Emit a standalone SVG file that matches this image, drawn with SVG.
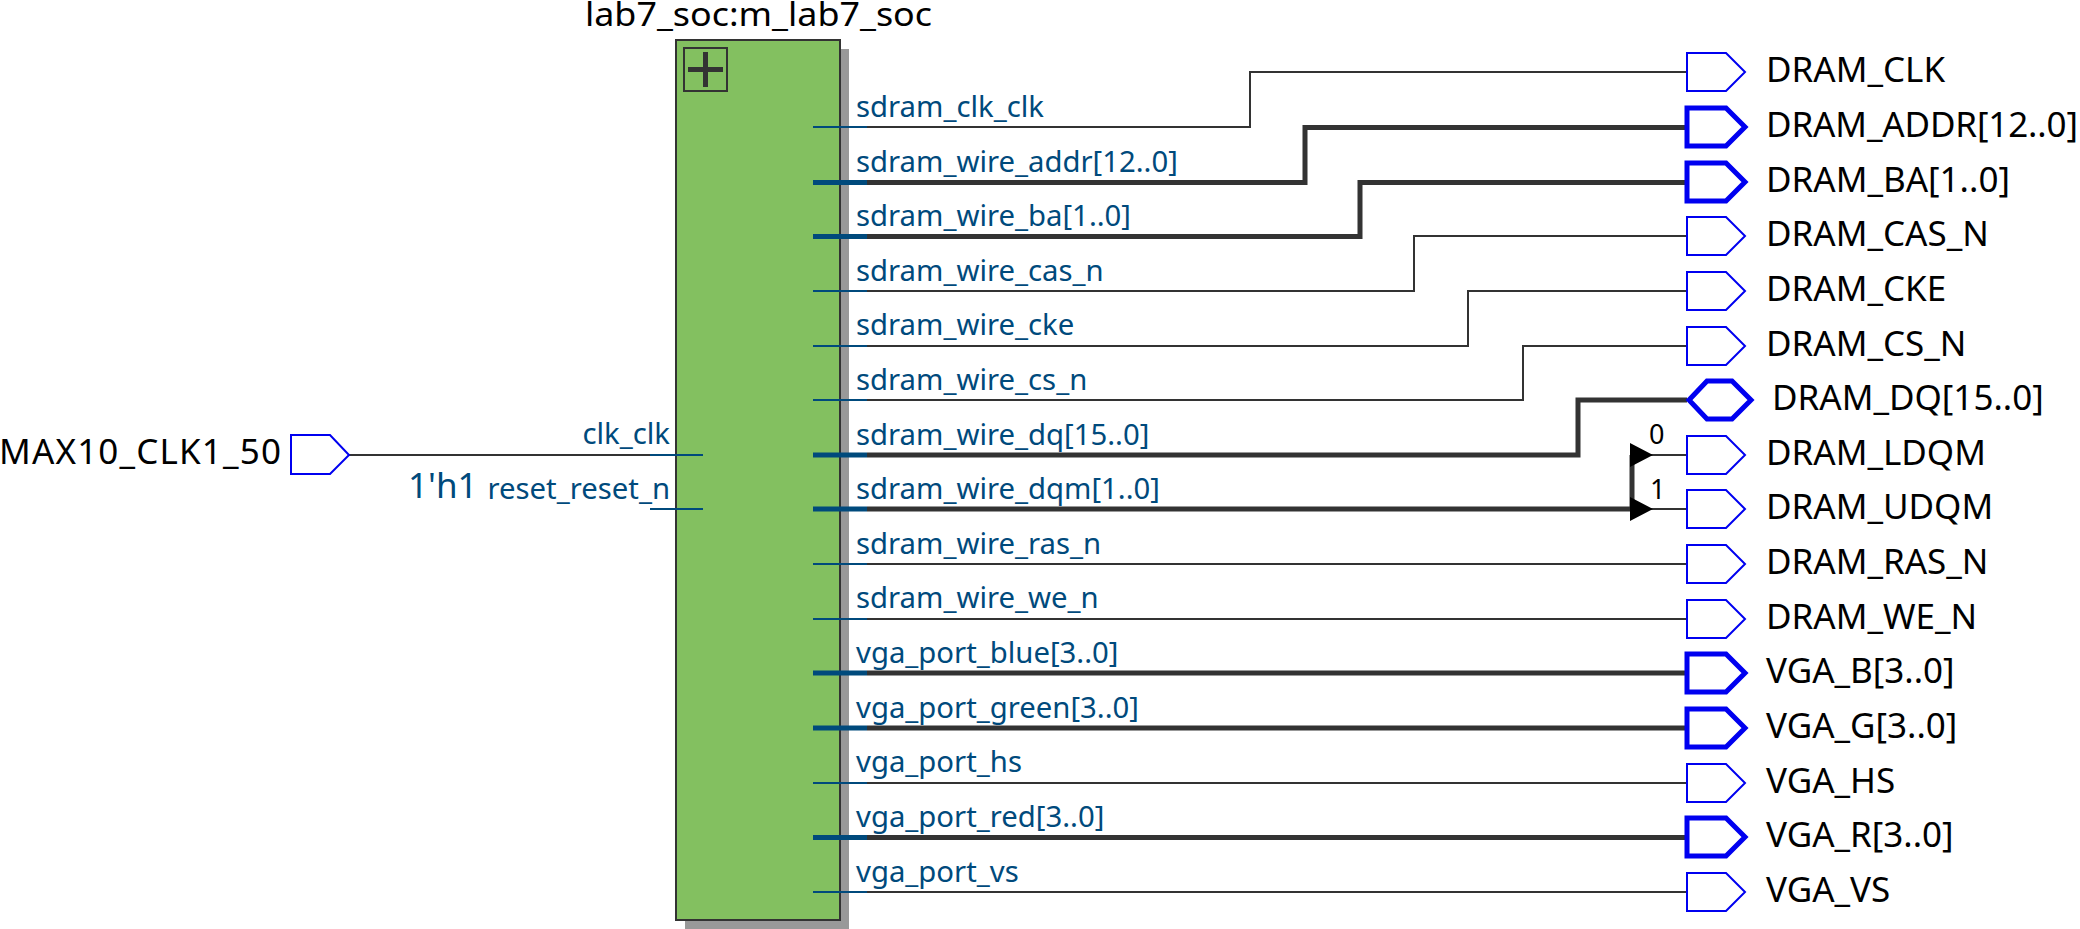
<svg xmlns="http://www.w3.org/2000/svg" width="2080" height="929" viewBox="0 0 2080 929">
<style>
text{font-family:"Noto Sans","Open Sans","DejaVu Sans",sans-serif}
.n{font-size:35px;fill:#000}
.p{font-size:29.3px;fill:#004a7c}
.i{font-size:27px;fill:#000}
.w{fill:none;stroke:#333;stroke-width:2}
.b{fill:none;stroke:#333;stroke-width:5}
.sw{fill:none;stroke:#004a7c;stroke-width:2}
.sb{fill:none;stroke:#004a7c;stroke-width:5}
.pin{fill:#fff;stroke:#0000f0;stroke-width:2}
.pinb{fill:#fff;stroke:#0000f0;stroke-width:5}
</style>
<defs>
<path id="out" d="M0 -19H39L58 0L39 19H0Z"/>
</defs>
<g id="lab7_soc">
<rect x="685" y="49" width="164" height="880" fill="#999"/>
<rect x="676" y="40" width="164" height="880" fill="#83c060" stroke="#333" stroke-width="2"/>
<rect x="684" y="48" width="43" height="43" fill="none" stroke="#333" stroke-width="2"/>
<path d="M688 69.500H723M705.500 52V87" fill="none" stroke="#333" stroke-width="5"/>
<text class="n" x="585" y="26" textLength="347" lengthAdjust="spacingAndGlyphs" style="font-size:33px">lab7_soc:m_lab7_soc</text>
<text class="p" x="670" y="444" text-anchor="end">clk_clk</text>
<text class="p" x="670" y="499" text-anchor="end">reset_reset_n</text>
<text class="p" x="408" y="498" style="font-size:35px">1'h1</text>
<text class="p" x="856" y="117">sdram_clk_clk</text>
<text class="p" x="856" y="172">sdram_wire_addr[12..0]</text>
<text class="p" x="856" y="226">sdram_wire_ba[1..0]</text>
<text class="p" x="856" y="281">sdram_wire_cas_n</text>
<text class="p" x="856" y="335">sdram_wire_cke</text>
<text class="p" x="856" y="390">sdram_wire_cs_n</text>
<text class="p" x="856" y="445">sdram_wire_dq[15..0]</text>
<text class="p" x="856" y="499">sdram_wire_dqm[1..0]</text>
<text class="p" x="856" y="554">sdram_wire_ras_n</text>
<text class="p" x="856" y="608">sdram_wire_we_n</text>
<text class="p" x="856" y="663">vga_port_blue[3..0]</text>
<text class="p" x="856" y="718">vga_port_green[3..0]</text>
<text class="p" x="856" y="772">vga_port_hs</text>
<text class="p" x="856" y="827">vga_port_red[3..0]</text>
<text class="p" x="856" y="882">vga_port_vs</text>
</g>
<g id="connectors">
<path class="w" d="M349 455H650"/>
<path class="w" d="M867 127H1250V72H1687"/>
<path class="b" d="M867 182.500H1305V127.500H1687"/>
<path class="b" d="M867 236.500H1360V182.500H1687"/>
<path class="w" d="M867 291H1414V236H1687"/>
<path class="w" d="M867 346H1468V291H1687"/>
<path class="w" d="M867 400H1523V346H1687"/>
<path class="b" d="M867 455H1578V400H1687"/>
<path class="b" d="M867 509H1632"/>
<path class="b" d="M1632 455V509"/>
<path class="w" d="M1650 455H1687M1650 509H1687"/>
<path d="M1630 443L1653 455L1630 467ZM1630 497L1653 509L1630 521Z" fill="#000"/>
<path class="w" d="M867 564H1687M867 619H1687"/>
<path class="b" d="M867 673H1687M867 728H1687"/>
<path class="w" d="M867 783H1687"/>
<path class="b" d="M867 837.500H1687"/>
<path class="w" d="M867 892H1687"/>
<path class="sw" d="M650 455H703M650 509H703M813 127H867M813 291H867M813 346H867M813 400H867M813 564H867M813 619H867M813 783H867M813 892H867"/>
<path class="sb" d="M813 182.500H867M813 236.500H867M813 455H867M813 509H867M813 673H867M813 728H867M813 837.500H867"/>
<text class="i" x="1649" y="444">0</text>
<text class="i" x="1650" y="499">1</text>
</g>
<g id="MAX10_CLK1_50"><path class="pin" d="M291 435H330L349 455L330 474H291Z"/><text class="n" x="-1" y="464" textLength="282">MAX10_CLK1_50</text></g>
<g id="DRAM_CLK"><use href="#out" class="pin" x="1687" y="72"/><text class="n" x="1766" y="82">DRAM_CLK</text></g>
<g id="DRAM_ADDR"><use href="#out" class="pinb" x="1687" y="127"/><text class="n" x="1766" y="137" textLength="312">DRAM_ADDR[12..0]</text></g>
<g id="DRAM_BA"><use href="#out" class="pinb" x="1687" y="182"/><text class="n" x="1766" y="192">DRAM_BA[1..0]</text></g>
<g id="DRAM_CAS_N"><use href="#out" class="pin" x="1687" y="236"/><text class="n" x="1766" y="246">DRAM_CAS_N</text></g>
<g id="DRAM_CKE"><use href="#out" class="pin" x="1687" y="291"/><text class="n" x="1766" y="301">DRAM_CKE</text></g>
<g id="DRAM_CS_N"><use href="#out" class="pin" x="1687" y="346"/><text class="n" x="1766" y="356">DRAM_CS_N</text></g>
<g id="DRAM_DQ"><path class="pinb" d="M1689 400L1707 381H1732L1751 400L1732 419H1707Z"/><text class="n" x="1772" y="410">DRAM_DQ[15..0]</text></g>
<g id="DRAM_LDQM"><use href="#out" class="pin" x="1687" y="455"/><text class="n" x="1766" y="465">DRAM_LDQM</text></g>
<g id="DRAM_UDQM"><use href="#out" class="pin" x="1687" y="509"/><text class="n" x="1766" y="519">DRAM_UDQM</text></g>
<g id="DRAM_RAS_N"><use href="#out" class="pin" x="1687" y="564"/><text class="n" x="1766" y="574">DRAM_RAS_N</text></g>
<g id="DRAM_WE_N"><use href="#out" class="pin" x="1687" y="619"/><text class="n" x="1766" y="629">DRAM_WE_N</text></g>
<g id="VGA_B"><use href="#out" class="pinb" x="1687" y="673"/><text class="n" x="1766" y="683">VGA_B[3..0]</text></g>
<g id="VGA_G"><use href="#out" class="pinb" x="1687" y="728"/><text class="n" x="1766" y="738">VGA_G[3..0]</text></g>
<g id="VGA_HS"><use href="#out" class="pin" x="1687" y="783"/><text class="n" x="1766" y="793">VGA_HS</text></g>
<g id="VGA_R"><use href="#out" class="pinb" x="1687" y="837"/><text class="n" x="1766" y="847">VGA_R[3..0]</text></g>
<g id="VGA_VS"><use href="#out" class="pin" x="1687" y="892"/><text class="n" x="1766" y="902">VGA_VS</text></g>
</svg>
